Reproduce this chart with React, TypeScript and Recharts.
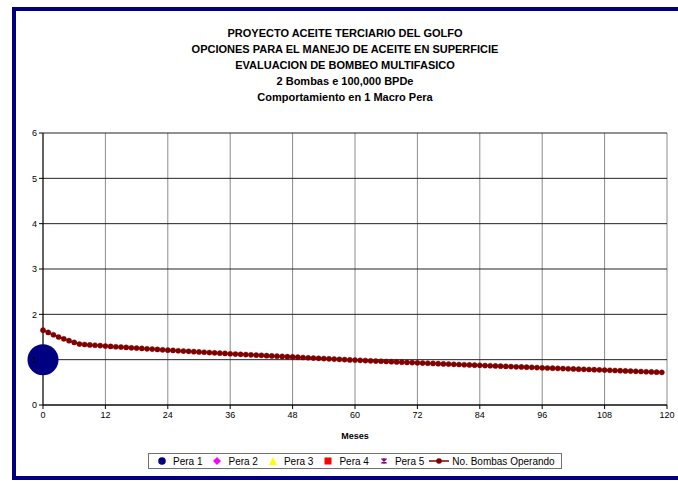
import { ComposedChart, Line, Scatter, XAxis, YAxis, CartesianGrid, Label } from "recharts";

const TITULO = [
  "PROYECTO ACEITE TERCIARIO DEL GOLFO",
  "OPCIONES PARA EL MANEJO DE ACEITE EN SUPERFICIE",
  "EVALUACION DE BOMBEO MULTIFASICO",
  "2 Bombas e 100,000 BPDe",
  "Comportamiento en 1 Macro Pera",
];

// No. Bombas Operando, one value per month (0..119)
const BOMBAS = [
  1.65, 1.6, 1.55, 1.5, 1.46, 1.42, 1.38, 1.345, 1.335, 1.325,
  1.318, 1.31, 1.3, 1.292, 1.285, 1.278, 1.27, 1.262, 1.255, 1.248,
  1.24, 1.233, 1.225, 1.218, 1.21, 1.204, 1.197, 1.19, 1.184, 1.177,
  1.17, 1.164, 1.157, 1.15, 1.144, 1.137, 1.13, 1.124, 1.118, 1.112,
  1.106, 1.1, 1.095, 1.089, 1.083, 1.077, 1.071, 1.065, 1.06, 1.054,
  1.048, 1.042, 1.036, 1.03, 1.025, 1.019, 1.013, 1.007, 1.001, 0.995,
  0.99, 0.985, 0.98, 0.975, 0.97, 0.965, 0.96, 0.955, 0.95, 0.945,
  0.94, 0.935, 0.93, 0.925, 0.921, 0.916, 0.911, 0.907, 0.902, 0.897,
  0.893, 0.888, 0.884, 0.879, 0.875, 0.87, 0.866, 0.861, 0.857, 0.852,
  0.848, 0.843, 0.839, 0.834, 0.83, 0.825, 0.82, 0.816, 0.812, 0.808,
  0.804, 0.8, 0.795, 0.791, 0.787, 0.783, 0.779, 0.775, 0.77, 0.766,
  0.761, 0.757, 0.752, 0.748, 0.743, 0.739, 0.734, 0.73, 0.725, 0.72,
];

const PERA_1 = [{ mes: 0, valor: 1 }];

const X_TICKS = [0, 12, 24, 36, 48, 60, 72, 84, 96, 108, 120];
const Y_TICKS = [0, 1, 2, 3, 4, 5, 6];

const LEYENDA = ["Pera 1", "Pera 2", "Pera 3", "Pera 4", "Pera 5", "No. Bombas Operando"];

const FONT = '"Liberation Sans", Arial, sans-serif';
const NAVY = "#000080";
const MAROON = "#800000";

const chartData = BOMBAS.map((v, i) => ({ mes: i, bombas: v }));

function Marker({ index }: { index: number }) {
  if (index === 0)
    return (
      <svg width={10} height={10}>
        <circle cx={5} cy={5} r={3.8} fill={NAVY} />
      </svg>
    );
  if (index === 1)
    return (
      <svg width={10} height={10}>
        <polygon points="5,1 9,5 5,9 1,5" fill="#ff00ff" />
      </svg>
    );
  if (index === 2)
    return (
      <svg width={10} height={10}>
        <polygon points="5,1 9,9 1,9" fill="#ffff00" />
      </svg>
    );
  if (index === 3)
    return (
      <svg width={10} height={10}>
        <rect x={1.5} y={1.5} width={7} height={7} fill="#ff0000" />
      </svg>
    );
  if (index === 4)
    return (
      <svg width={10} height={10}>
        <path d="M2.5,2.5 L7.5,7.5 M7.5,2.5 L2.5,7.5 M5,2 L5,8" stroke="#800080" strokeWidth={1.4} />
      </svg>
    );
  return (
    <svg width={20} height={10}>
      <line x1={0} y1={5} x2={20} y2={5} stroke={MAROON} strokeWidth={1.5} />
      <circle cx={10} cy={5} r={2.8} fill={MAROON} />
    </svg>
  );
}

export default function App() {
  return (
    <div style={{ position: "absolute", left: 0, top: 0, width: 678, height: 481, background: "#fff", fontFamily: FONT }}>
      <div
        style={{
          position: "absolute",
          left: 12,
          top: 7,
          width: 666,
          height: 473,
          boxSizing: "border-box",
          borderTop: `4px solid ${NAVY}`,
          borderLeft: `4px solid ${NAVY}`,
          borderBottom: `4px solid ${NAVY}`,
        }}
      />
      <div
        style={{
          position: "absolute",
          left: 12,
          width: 666,
          top: 25,
          textAlign: "center",
          fontSize: 11,
          fontWeight: "bold",
          lineHeight: "16px",
          color: "#000",
        }}
      >
        {TITULO.map((t) => (
          <div key={t}>{t}</div>
        ))}
      </div>
      <div style={{ position: "absolute", left: 0, top: 0 }}>
        <ComposedChart
          width={678}
          height={481}
          data={chartData}
          margin={{ top: 133, right: 11, left: 0, bottom: 36 }}
        >
          <CartesianGrid horizontal={false} stroke="#8c8c8c" />
          <CartesianGrid vertical={false} stroke="#222" />
          <XAxis
            dataKey="mes"
            type="number"
            domain={[0, 120]}
            ticks={X_TICKS}
            interval={0}
            height={40}
            tickSize={4}
            tickMargin={3}
            stroke="#000"
            tick={{ fill: "#000", fontSize: 9, fontFamily: FONT }}
          >
            <Label
              value="Meses"
              position="insideBottom"
              offset={6}
              style={{ fontSize: 9, fontWeight: "bold", fill: "#000", fontFamily: FONT }}
            />
          </XAxis>
          <YAxis
            type="number"
            domain={[0, 6]}
            ticks={Y_TICKS}
            interval={0}
            width={43}
            tickSize={4}
            tickMargin={2}
            stroke="#000"
            tick={{ fill: "#000", fontSize: 9, fontFamily: FONT }}
          />
          <Line
            dataKey="bombas"
            stroke={MAROON}
            strokeWidth={1.5}
            dot={{ r: 2.6, fill: MAROON, stroke: MAROON, strokeWidth: 0.4 }}
            isAnimationActive={false}
          />
          <Scatter
            data={PERA_1}
            dataKey="valor"
            isAnimationActive={false}
            shape={(p: any) => <circle cx={p.cx} cy={p.cy} r={15.5} fill={NAVY} />}
          />
        </ComposedChart>
      </div>
      <div
        style={{
          position: "absolute",
          left: 148,
          top: 453,
          width: 414,
          height: 16,
          boxSizing: "border-box",
          border: "1px solid #707070",
          display: "flex",
          alignItems: "center",
          paddingLeft: 8,
          fontSize: 10,
          color: "#000",
          whiteSpace: "nowrap",
        }}
      >
        {LEYENDA.map((name, i) => (
          <div
            key={name}
            style={{
              display: "flex",
              alignItems: "center",
              marginRight: i < 4 ? 10 : 0,
              marginLeft: i === 5 ? 5 : 0,
            }}
          >
            <Marker index={i} />
            <span style={{ marginLeft: i < 5 ? 6 : 3 }}>{name}</span>
          </div>
        ))}
      </div>
    </div>
  );
}
